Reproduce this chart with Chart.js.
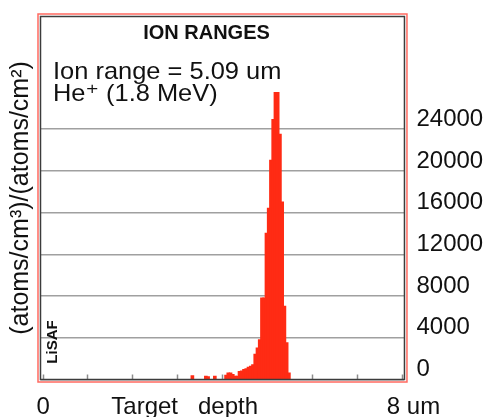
<!DOCTYPE html>
<html>
<head>
<meta charset="utf-8">
<title>Ion ranges</title>
<script src="https://cdn.jsdelivr.net/npm/chart.js@4.4.1/dist/chart.umd.min.js"></script>
<style>
  html, body { margin: 0; padding: 0; background: #fff; }
</style>
</head>
<body>
<canvas id="ionChart" width="492" height="417"></canvas>
<script>
// depth bin centres (um) and ion counts
const depthBins = [3.325, 3.625, 3.675, 3.825, 4.075, 4.125, 4.175, 4.225, 4.275, 4.325,
                   4.375, 4.425, 4.475, 4.525, 4.575, 4.625, 4.675, 4.725, 4.775, 4.825,
                   4.875, 4.925, 4.975, 5.025, 5.075, 5.125, 5.175, 5.225, 5.275, 5.325,
                   5.375, 5.425, 5.475];
const ionCounts = [350, 300, 250, 300, 400, 600, 600, 450, 300, 300,
                   750, 800, 950, 1000, 1150, 1250, 1400, 2400, 3000, 3800,
                   7800, 7800, 14000, 16400, 21000, 24900, 27500, 27500, 23500, 17000,
                   7000, 3500, 600];

const yTicks = [0, 4000, 8000, 12000, 16000, 20000, 24000];
const xTicks = [0, 1, 2, 3, 4, 5, 6, 7, 8];
const xLabels = [
    { value: 0, label: '0' },
    { value: 3.154, label: 'Target   depth' },
    { value: 8.25, label: '8 um' }
];
const chartTitle = 'ION RANGES';
const infoLines = ['Ion range = 5.09 um', 'He\u207A (1.8 MeV)'];
const yTitle = '(atoms/cm\u00B3)/(atoms/cm\u00B2)';
const stamp = 'LiSAF';

const FONT = "'Liberation Sans', Arial, 'DejaVu Sans', sans-serif";

// frame around the plot plus the texts that sit inside it
const framePlugin = {
    id: 'frame',
    afterDraw(chart) {
        const { ctx, chartArea: a } = chart;
        ctx.save();
        ctx.lineWidth = 1.5;
        ctx.strokeStyle = '#3c3c3c';
        ctx.strokeRect(a.left, a.top, a.right - a.left, a.bottom - a.top);
        ctx.strokeStyle = '#ff6a60';
        ctx.strokeRect(a.left - 2.5, a.top - 2.5, a.right - a.left + 5, a.bottom - a.top + 5);

        ctx.fillStyle = '#111';
        ctx.textBaseline = 'alphabetic';
        ctx.textAlign = 'center';
        ctx.font = 'bold 20px ' + FONT;
        ctx.fillText(chartTitle, 206.5, 39);

        ctx.textAlign = 'left';
        ctx.font = '24px ' + FONT;
        ctx.save();
        ctx.translate(53, 0);
        ctx.scale(1.06, 1);
        ctx.fillText(infoLines[0], 0, 79);
        ctx.fillText(infoLines[1], 0, 101);
        ctx.restore();

        ctx.translate(53, 342);
        ctx.rotate(-Math.PI / 2);
        ctx.textAlign = 'center';
        ctx.textBaseline = 'middle';
        ctx.font = 'bold 15px ' + FONT;
        ctx.fillText(stamp, 0, 0);
        ctx.restore();
    }
};

function isWholeTick(c) {
    return !!(c && c.tick && xTicks.includes(c.tick.value));
}

const ctx = document.getElementById('ionChart').getContext('2d');

new Chart(ctx, {
    type: 'bar',
    data: {
        datasets: [{
            label: 'Ion ranges',
            data: depthBins.map((d, i) => ({ x: d, y: ionCounts[i] })),
            backgroundColor: '#ff2b14',
            borderWidth: 0,
            inflateAmount: 0.7,
            barPercentage: 1,
            categoryPercentage: 1
        }]
    },
    options: {
        responsive: false,
        animation: false,
        layout: { padding: { left: 2.5, right: -3.2, top: 16.5, bottom: -23.5 } },
        plugins: {
            legend: { display: false },
            tooltip: { enabled: false }
        },
        scales: {
            x: {
                type: 'linear',
                offset: false,
                min: -0.058,
                max: 8.049,
                z: 1,
                afterBuildTicks: function(axis) {
                    const ticks = xTicks.map(v => ({ value: v }));
                    xLabels.forEach(l => {
                        if (!xTicks.includes(l.value)) ticks.push({ value: l.value });
                    });
                    ticks.sort((a, b) => a.value - b.value);
                    axis.ticks = ticks;
                },
                grid: {
                    offset: false,
                    drawOnChartArea: false,
                    drawTicks: true,
                    tickLength: -5,
                    tickWidth: 1.5,
                    tickColor: c => isWholeTick(c) ? '#8c8c8c' : 'rgba(0,0,0,0)'
                },
                border: { display: false },
                ticks: {
                    autoSkip: false,
                    maxRotation: 0,
                    minRotation: 0,
                    padding: 21,
                    color: '#111',
                    font: { size: 24, family: FONT, lineHeight: 1 },
                    callback: function(value) {
                        const l = xLabels.find(t => t.value === value);
                        return l ? l.label : '';
                    }
                }
            },
            y: {
                position: 'right',
                min: 0,
                max: 34800,
                z: 1,
                afterBuildTicks: function(axis) {
                    axis.ticks = yTicks.map(v => ({ value: v }));
                },
                grid: { color: '#a0a0a0', lineWidth: 1.5, drawTicks: false },
                border: { display: false },
                ticks: {
                    padding: 12,
                    labelOffset: -10,
                    color: '#111',
                    font: { size: 24, family: FONT, lineHeight: 0.3 },
                    callback: v => String(v)
                }
            },
            yl: {
                position: 'left',
                min: 0,
                max: 1,
                ticks: { display: false },
                grid: { display: false, drawTicks: false },
                border: { display: false },
                title: {
                    display: true,
                    text: yTitle,
                    color: '#111',
                    font: { size: 25, family: FONT },
                    padding: { top: 4, bottom: 4 }
                }
            }
        }
    },
    plugins: [framePlugin]
});
</script>
</body>
</html>
